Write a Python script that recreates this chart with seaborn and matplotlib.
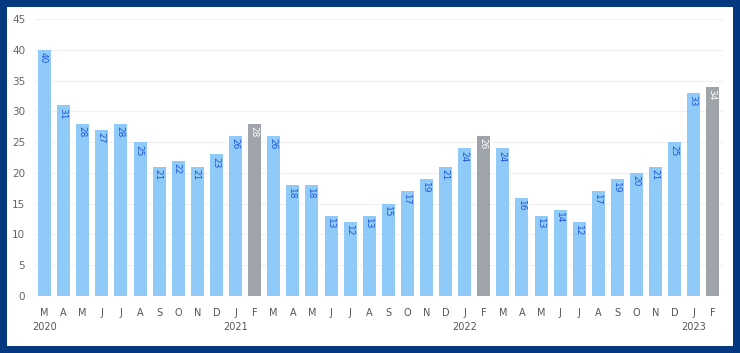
import numpy as np
import pandas as pd

import matplotlib.pyplot as plt
import matplotlib.patches as mpatches
import seaborn as sns

# Datos
periodos = pd.period_range("2020-03", "2023-02", freq="M").astype(str)
meses = ["M", "A", "M", "J", "J", "A", "S", "O", "N", "D", "J", "F"] * 3
anios = ["2020", "", "", "", "", "", "", "", "", "", "2021", "",
         "", "", "", "", "", "", "", "", "", "", "2022", "",
         "", "", "", "", "", "", "", "", "", "", "2023", ""]
valores = [40, 31, 28, 27, 28, 25, 21, 22, 21, 23, 26, 28,
           26, 18, 18, 13, 12, 13, 15, 17, 19, 21, 24, 26,
           24, 16, 13, 14, 12, 17, 19, 20, 21, 25, 33, 34]
destacado = [m == "F" for m in meses]

df = pd.DataFrame({
    "periodo": periodos,
    "valor": valores,
    "destacado": destacado
})

azul = "#90CAF9"
gris = "#9EA4AA"
colores = [gris if d else azul for d in df["destacado"]]

sns.set_style("white")

fig = plt.figure(figsize=(7.4, 3.53), dpi=100)
fig.patch.set_facecolor("#05397f")
fig.patches.append(mpatches.Rectangle(
    (7 / 740, 7 / 353), 726 / 740, 339 / 353,
    transform=fig.transFigure, facecolor="white", edgecolor="none", zorder=-10
))

ax = fig.add_axes([35 / 740, 57 / 353, 687.5 / 740, 277 / 353])
ax.set_facecolor("white")

sns.barplot(
    data=df,
    x="periodo",
    y="valor",
    hue="periodo",
    palette=colores,
    legend=False,
    width=0.68,
    saturation=1,
    edgecolor="none",
    linewidth=0,
    ax=ax,
    zorder=2
)

ax.set_xlim(-0.5, len(df) - 0.5)
ax.set_ylim(0, 45)
ax.set_yticks(range(0, 46, 5))
ax.grid(axis="y", color="#f0f0f0", linewidth=0.8, zorder=0)
ax.set_axisbelow(True)
for s in ax.spines.values():
    s.set_visible(False)

etiquetas = [m + ("\n" + a if a else "") for m, a in zip(meses, anios)]
ax.set_xticks(range(len(df)))
ax.set_xticklabels(etiquetas, linespacing=1.45)
ax.tick_params(axis="x", length=0, pad=9, labelsize=7, labelcolor="#555555")
ax.tick_params(axis="y", length=0, pad=7, labelsize=7.5, labelcolor="#666666")
ax.set_xlabel("")
ax.set_ylabel("")

# Etiquetas de valor
for i, (v, d) in enumerate(zip(df["valor"], df["destacado"])):
    ax.text(
        i, v - 0.4, str(v),
        rotation=270,
        rotation_mode="anchor",
        ha="left", va="center_baseline",
        fontsize=6.5,
        color="white" if d else "#1a56db"
    )

plt.savefig("out.png", dpi=100, facecolor=fig.get_facecolor())
